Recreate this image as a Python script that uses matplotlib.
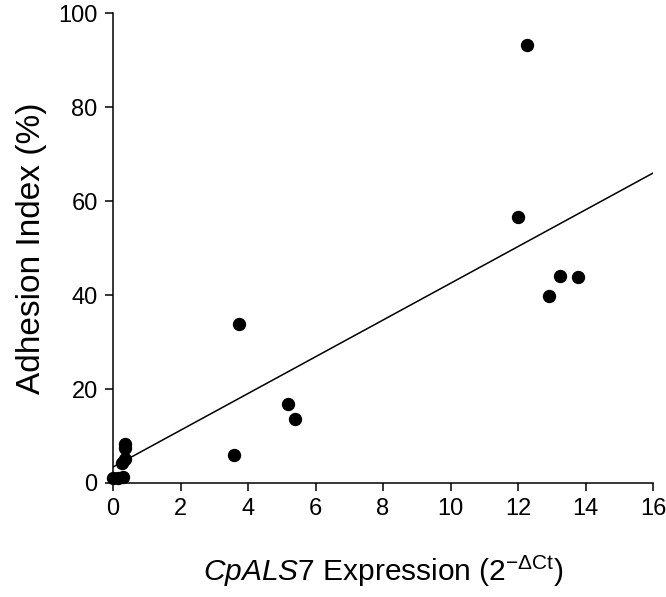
import matplotlib
matplotlib.use("Agg")
import matplotlib.pyplot as plt
import numpy as np

plt.rcParams['font.family'] = ['Liberation Sans', 'DejaVu Sans']
plt.rcParams['mathtext.fontset'] = 'custom'
plt.rcParams['mathtext.rm'] = 'Liberation Sans'
plt.rcParams['mathtext.it'] = 'Liberation Sans:italic'

# expression (2^-dCt) vs adhesion index (%)
expression = np.array([0.0, 0.15, 0.30, 0.28, 0.35, 0.35, 0.36,
                       3.59, 3.73, 5.19, 5.40,
                       12.01, 12.26, 12.92, 13.24, 13.77])
adhesion = np.array([1.0, 1.0, 1.2, 4.2, 5.0, 7.5, 8.2,
                     5.9, 33.8, 16.9, 13.7,
                     56.7, 93.2, 39.8, 44.0, 43.9])

# regression line
intercept = 3.4
slope = 3.91

fig = plt.figure(figsize=(6.66, 5.97), dpi=100)
ax = fig.add_axes([0.1697, 0.191, 0.8108, 0.787])

ax.scatter(expression, adhesion, s=74, color='black', zorder=3, clip_on=False)
xl = np.array([0, 16])
ax.plot(xl, intercept + slope * xl, color='black', linewidth=1.1)

ax.set_xlim(0, 16)
ax.set_ylim(0, 100)
ax.set_xticks(np.arange(0, 17, 2))
ax.set_yticks(np.arange(0, 101, 20))
ax.spines['top'].set_visible(False)
ax.spines['right'].set_visible(False)
for s in ['left', 'bottom']:
    ax.spines[s].set_linewidth(1.1)
ax.tick_params(direction='out', length=6, width=1.1, labelsize=17, pad=5)

ax.set_xlabel(r"$\mathit{CpALS7}$ Expression (2$^{\mathrm{-\Delta Ct}}$)", fontsize=21.5, labelpad=24)
ax.set_ylabel("Adhesion Index (%)", fontsize=24, labelpad=8)

fig.savefig("out.png", dpi=100)
